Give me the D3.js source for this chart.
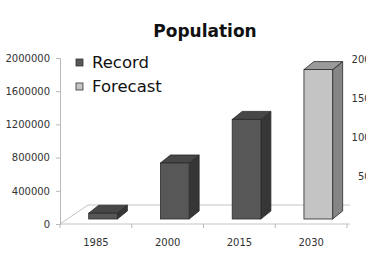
<!DOCTYPE html>
<html>
<head>
<meta charset="utf-8">
<script src="https://cdn.jsdelivr.net/npm/d3@7"></script>
<style>
  body { margin: 0; background: #fff; }
  svg { display: block; }
</style>
</head>
<body>
<svg width="366" height="253"></svg>
<script>
const years = ["1985", "2000", "2015", "2030"];
const population = [70000, 675000, 1200000, 1800000];
const kinds = ["Record", "Record", "Record", "Forecast"];
const leftTicks = [0, 400000, 800000, 1200000, 1600000, 2000000];
const rightTicks = [500, 1000, 1500, 2000];
const legendItems = ["Record", "Forecast"];

const data = years.map((y, i) => ({ year: y, value: population[i], kind: kinds[i] }));

const svg = d3.select("svg");
const font = "DejaVu Sans, sans-serif";

const x = d3.scaleBand().domain(years).range([60, 347]).padding(0);
const y = d3.scaleLinear().domain([0, 2000000]).range([224, 58]);
const yRight = d3.scaleLinear().domain([0, 2000]).range([215, 59]);

const faces = {
  Record: { front: "#575757", side: "#363636", top: "#474747" },
  Forecast: { front: "#c4c4c4", side: "#858585", top: "#9a9a9a" }
};

// floor
const floorDx = 28, floorDy = -19;
svg.append("path")
  .attr("d", `M${x.range()[0]},${y(0)} L${x.range()[0] + floorDx},${y(0) + floorDy} L350,${y(0) + floorDy}`)
  .attr("fill", "none")
  .attr("stroke", "#c4c4c4");
svg.append("line")
  .attr("x1", x.range()[0]).attr("x2", 350)
  .attr("y1", y(0)).attr("y2", y(0))
  .attr("stroke", "#c4c4c4");

// left axis
const gl = svg.append("g")
  .attr("transform", `translate(${x.range()[0]},0)`)
  .call(d3.axisLeft(y).tickValues(leftTicks).tickSize(4).tickPadding(6).tickFormat(d3.format("d")));
gl.select(".domain").attr("stroke", "#b8b8b8");
gl.selectAll(".tick line").attr("stroke", "#b8b8b8");
gl.selectAll("text").style("font-family", font).style("font-size", "10px").attr("fill", "#333");

// bottom ticks and labels
const gb = svg.append("g")
  .attr("transform", `translate(0,${y(0)})`)
  .call(d3.axisBottom(x).tickSize(0).tickPadding(15));
gb.select(".domain").remove();
gb.selectAll("text").style("font-family", font).style("font-size", "10px").attr("fill", "#333");
svg.selectAll(".xtick")
  .data(years.concat(["end"]))
  .enter().append("line")
  .attr("x1", d => d === "end" ? x.range()[1] : x(d))
  .attr("x2", d => d === "end" ? x.range()[1] : x(d))
  .attr("y1", y(0)).attr("y2", y(0) + 4)
  .attr("stroke", "#b8b8b8");

// right axis (runs past the window edge, as in the original)
const gr = svg.append("g")
  .attr("transform", "translate(377,0)")
  .call(d3.axisRight(yRight).tickValues(rightTicks).tickSize(0).tickPadding(0).tickFormat(d3.format("d")));
gr.select(".domain").remove();
gr.selectAll("text").attr("text-anchor", "end")
  .style("font-family", font).style("font-size", "10px").attr("fill", "#333");

// 3d bars
const bw = x.bandwidth() * 0.4;
const dx = 10, dy = -8, inset = 5;
const bars = svg.selectAll(".bar")
  .data(data)
  .enter().append("g")
  .attr("class", "bar");

bars.each(function(d) {
  const g = d3.select(this);
  const x0 = x(d.year) + x.bandwidth() * 0.4;
  const x1 = x0 + bw;
  const yb = y(0) - inset;
  const yt = y(d.value) - inset;
  const c = faces[d.kind];
  g.append("path")
    .attr("d", `M${x1},${yb} L${x1 + dx},${yb + dy} L${x1 + dx},${yt + dy} L${x1},${yt} Z`)
    .attr("fill", c.side).attr("stroke", "#2a2a2a").attr("stroke-width", 0.8);
  g.append("path")
    .attr("d", `M${x0},${yt} L${x0 + dx},${yt + dy} L${x1 + dx},${yt + dy} L${x1},${yt} Z`)
    .attr("fill", c.top).attr("stroke", "#2a2a2a").attr("stroke-width", 0.8);
  g.append("rect")
    .attr("x", x0).attr("y", yt)
    .attr("width", bw).attr("height", yb - yt)
    .attr("fill", c.front).attr("stroke", "#2a2a2a").attr("stroke-width", 0.8);
});

// title
svg.append("text")
  .attr("x", 205)
  .attr("y", 37)
  .attr("text-anchor", "middle")
  .style("font-family", font)
  .style("font-size", "17px")
  .style("font-weight", "bold")
  .attr("fill", "#111")
  .text("Population");

// legend
const legend = svg.selectAll(".legend")
  .data(legendItems)
  .enter().append("g")
  .attr("transform", (d, i) => `translate(76,${59 + i * 24})`);
legend.append("rect")
  .attr("width", 7).attr("height", 7)
  .attr("fill", d => faces[d].front)
  .attr("stroke", "#333").attr("stroke-width", 0.8);
legend.append("text")
  .attr("x", 16).attr("y", 9)
  .style("font-family", font)
  .style("font-size", "16.5px")
  .attr("fill", "#111")
  .text(d => d);
</script>
</body>
</html>
